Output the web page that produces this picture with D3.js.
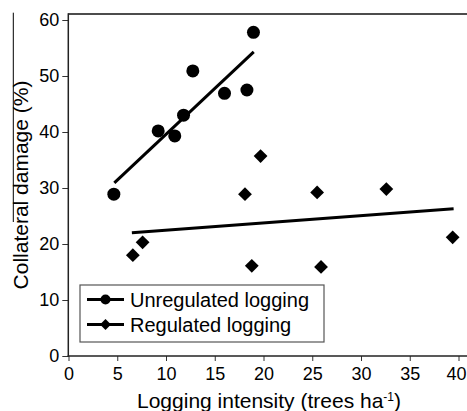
<!DOCTYPE html>
<html>
<head>
<meta charset="utf-8">
<script src="https://cdn.jsdelivr.net/npm/d3@7"></script>
<style>
  html, body { margin: 0; padding: 0; background: #fff; }
  svg { display: block; font-family: "Liberation Sans", Arial, sans-serif; }
</style>
</head>
<body>
<svg id="chart" width="467" height="411"></svg>
<script>
// ---- data ----
const unregX = [4.65, 9.2, 10.9, 11.8, 12.75, 16.0, 18.3, 18.97];
const unregY = [28.9, 40.2, 39.3, 43.0, 50.9, 46.9, 47.5, 57.8];
const regX = [6.6, 7.6, 18.1, 18.8, 19.7, 25.5, 25.9, 32.6, 39.4];
const regY = [18.0, 20.3, 28.9, 16.1, 35.7, 29.2, 15.9, 29.8, 21.2];
// fitted trend lines (endpoints)
const unregFitX = [4.7, 19.0];
const unregFitY = [30.9, 54.3];
const regFitX = [6.5, 39.5];
const regFitY = [22.0, 26.3];
const xTicks = [0, 5, 10, 15, 20, 25, 30, 35, 40];
const yTicks = [0, 10, 20, 30, 40, 50, 60];
const seriesNames = ["Unregulated logging", "Regulated logging"];

const svg = d3.select("#chart");
const x = d3.scaleLinear().domain([0, 40]).range([68.5, 458.5]);
const y = d3.scaleLinear().domain([0, 60]).range([356, 20]);
const axisX0 = 68.3;

// stray vertical line artifact near y-label
svg.append("line").attr("x1", 13.3).attr("x2", 13.3).attr("y1", 12.7).attr("y2", 222)
  .attr("stroke", "#000").attr("stroke-width", 1);

// top frame line
svg.append("line").attr("x1", axisX0).attr("x2", 467).attr("y1", 14).attr("y2", 14)
  .attr("stroke", "#111").attr("stroke-width", 1.6);

// y axis
const yAxis = svg.append("g").attr("transform", `translate(${axisX0},0)`)
  .call(d3.axisLeft(y).tickValues(yTicks).tickSize(6).tickPadding(3).tickSizeOuter(0));
yAxis.select(".domain").remove();
yAxis.selectAll("line").attr("stroke", "#333");
yAxis.selectAll("text").attr("font-size", 18).attr("fill", "#000")
  .attr("font-family", "'Liberation Sans', Arial, sans-serif");
svg.append("line").attr("x1", axisX0).attr("x2", axisX0).attr("y1", 13.2).attr("y2", 356.7)
  .attr("stroke", "#222").attr("stroke-width", 1.5);

// x axis
const xAxis = svg.append("g").attr("transform", `translate(0,356)`)
  .call(d3.axisBottom(x).tickValues(xTicks).tickSize(5).tickPadding(6).tickSizeOuter(0));
xAxis.select(".domain").remove();
xAxis.selectAll("line").attr("stroke", "#333");
xAxis.selectAll("text").attr("font-size", 18).attr("fill", "#000")
  .attr("font-family", "'Liberation Sans', Arial, sans-serif")
  .attr("dx", d => d === 40 ? -2.5 : 0);
svg.append("line").attr("x1", axisX0 - 0.7).attr("x2", 467).attr("y1", 356).attr("y2", 356)
  .attr("stroke", "#222").attr("stroke-width", 1.5);

// axis titles
const xt = svg.append("text").attr("x", 269).attr("y", 408).attr("text-anchor", "middle")
  .attr("font-size", 21).attr("fill", "#000");
xt.append("tspan").text("Logging intensity (trees ha");
xt.append("tspan").text("-1").attr("font-size", 12).attr("dy", -7.5);
xt.append("tspan").text(")").attr("dy", 7.5);

svg.append("text").attr("transform", "translate(28,185) rotate(-90)")
  .attr("text-anchor", "middle").attr("font-size", 21).attr("fill", "#000")
  .text("Collateral damage (%)");

// trend lines
const line = d3.line().x(d => x(d[0])).y(d => y(d[1]));
svg.append("path").datum(d3.zip(unregFitX, unregFitY)).attr("d", line)
  .attr("stroke", "#000").attr("stroke-width", 3).attr("fill", "none");
svg.append("path").datum(d3.zip(regFitX, regFitY)).attr("d", line)
  .attr("stroke", "#000").attr("stroke-width", 3).attr("fill", "none");

// points
svg.append("g").selectAll("circle").data(d3.zip(unregX, unregY)).join("circle")
  .attr("cx", d => x(d[0])).attr("cy", d => y(d[1])).attr("r", 6.5).attr("fill", "#000");
const diamond = d3.symbol().type(d3.symbolSquare).size(95);
svg.append("g").selectAll("path").data(d3.zip(regX, regY)).join("path")
  .attr("d", diamond)
  .attr("transform", d => `translate(${x(d[0])},${y(d[1])}) rotate(45)`)
  .attr("fill", "#000");

// legend
const lg = svg.append("g");
lg.append("rect").attr("x", 80).attr("y", 285).attr("width", 244).attr("height", 57)
  .attr("fill", "#fff").attr("stroke", "#555").attr("stroke-width", 1.2);
const legendRows = [{ name: seriesNames[0], y: 299.5, type: "circle" },
                    { name: seriesNames[1], y: 324.5, type: "diamond" }];
legendRows.forEach(r => {
  lg.append("line").attr("x1", 87).attr("x2", 124).attr("y1", r.y).attr("y2", r.y)
    .attr("stroke", "#000").attr("stroke-width", 3);
  if (r.type === "circle") {
    lg.append("circle").attr("cx", 105.5).attr("cy", r.y).attr("r", 5).attr("fill", "#000");
  } else {
    lg.append("path").attr("d", d3.symbol().type(d3.symbolSquare).size(60))
      .attr("transform", `translate(105.5,${r.y}) rotate(45)`).attr("fill", "#000");
  }
  lg.append("text").attr("x", 130).attr("y", r.y + 7).attr("font-size", 20).attr("fill", "#000")
    .text(r.name);
});
</script>
</body>
</html>
